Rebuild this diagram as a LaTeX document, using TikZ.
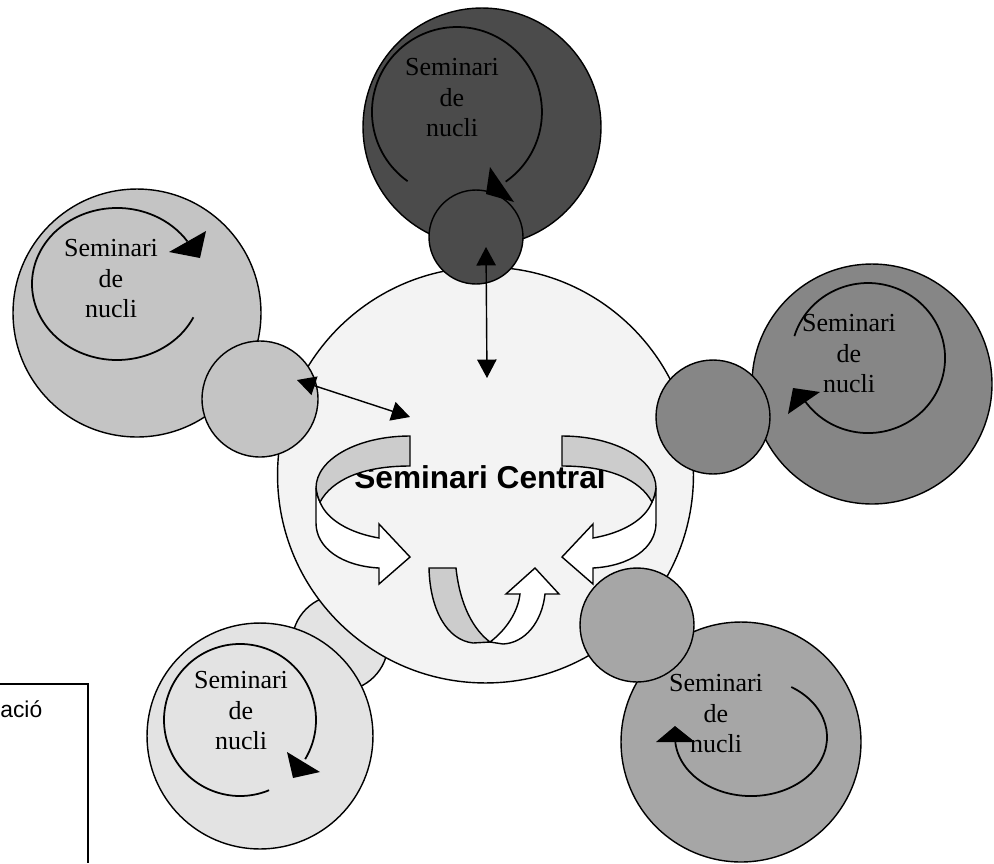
\documentclass[tikz,border=0pt]{standalone}
\usepackage{fontspec}
\setmainfont{Liberation Serif}
\newfontfamily\arialfont{Liberation Sans}
\usetikzlibrary{arrows.meta}

\definecolor{centralgrey}{RGB}{243,243,243}
\definecolor{topgrey}{RGB}{75,75,75}
\definecolor{leftgrey}{RGB}{196,196,196}
\definecolor{rightgrey}{RGB}{134,134,134}
\definecolor{botleftgrey}{RGB}{227,227,227}
\definecolor{botrightgrey}{RGB}{166,166,166}
\definecolor{ribbongrey}{RGB}{204,204,204}

\tikzset{
  ribbon/.pic={
    \filldraw[fill=white, ribbonline] (316,488) -- (316,523) .. controls (316,548) and (342,566) .. (379,568) -- (379,584) -- (410,557) -- (379,524) -- (379,538) .. controls (350,533) and (327,520) .. (320,502) .. controls (318,498) and (317,494) .. (316,488) -- cycle;
    \filldraw[fill=ribbongrey, ribbonline] (410,436) .. controls (358,436) and (316,459) .. (316,488) .. controls (317,494) and (318,498) .. (320,502) .. controls (332,480) and (362,466) .. (410,466) -- cycle;
  }
}

\begin{document}
\begin{tikzpicture}[x=0.02cm, y=-0.02cm,
  disc/.style={circle,draw=black,line width=0.8pt,inner sep=0pt,minimum size=#1},
  nuclitext/.style={align=center,inner sep=0pt,font=\fontsize{14.8}{17.4}\selectfont},
  curl/.style={line width=1pt},
  ribbonline/.style={draw=black,line width=0.8pt},
  arrowstyle/.style={>={Triangle[length=10.5pt,width=11pt]},<->,line width=0.8pt}]

 \useasboundingbox (0,0) rectangle (994,863);

 % small circle hidden behind the centre
 \node[disc=1.92cm, fill=botleftgrey] (linkBotLeft) at (340,643) {};
 \node[disc=8.32cm, fill=centralgrey] (central) at (485.5,475) {};

\foreach \n/\p/\c/\d in {Top/{482,127}/topgrey/4.76cm, Left/{137,313}/leftgrey/4.96cm, Right/{872,384}/rightgrey/4.8cm, BotLeft/{260,736}/botleftgrey/4.52cm, BotRight/{741,742}/botrightgrey/4.8cm}
	\node[disc=\d, fill=\c] (nucli\n) at (\p) {};
\foreach \n/\p/\c/\d in {Top/{476,237}/topgrey/1.88cm, Left/{260,399}/leftgrey/2.32cm, Right/{713,417}/rightgrey/2.28cm, BotRight/{637,625}/botrightgrey/2.28cm}
	\node[disc=\d, fill=\c] (link\n) at (\p) {};

 \node[font=\arialfont\bfseries\fontsize{18}{21}\selectfont, anchor=base, inner sep=0pt] (centraltext) at (480,488) {Seminari Central};

 % turning arrows inside the centre
 \pic[transform shape] {ribbon};
 \begin{scope}[shift={(972,0)}, xscale=-1]
  \pic[transform shape] {ribbon};
 \end{scope}
 \filldraw[fill=ribbongrey, ribbonline] (429,568) -- (456,568) .. controls (460,606) and (474,630) .. (490,642) -- (473,643) .. controls (447,640) and (430,610) .. (429,568) -- cycle;
 \filldraw[fill=white, ribbonline] (490,642) .. controls (506,630) and (518,612) .. (520,594) -- (506,594) -- (535,568) -- (559,594) -- (545,594) .. controls (542,622) and (525,643) .. (503,644) -- cycle;

 % loops inside each seminar
 \draw[curl] (407.6,181.2) arc[start angle=125.5, end angle=415, radius=85];
 \fill (490,167) -- (486,194) -- (514,202) -- cycle;
 \draw[curl] (193.4,317.3) arc[start angle=26, end angle=326, x radius=85, y radius=76];
 \fill (169,252) -- (200,258) -- (206,231) -- cycle;
 \draw[curl] (794.4,336.1) arc[start angle=197, end angle=505, x radius=77, y radius=75];
 \fill (788,414) -- (793,388) -- (820,392) -- cycle;
 \draw[curl] (269.1,790.2) arc[start angle=67.5, end angle=391, radius=76];
 \fill (287,752) -- (293,778) -- (320,772) -- cycle;
 \draw[curl] (791.3,687.0) arc[start angle=-58, end angle=175, x radius=76, y radius=59];
 \fill (675,726) -- (656,742) -- (695,742) -- cycle;

\foreach \n/\p in {Top/{452,97.7}, Left/{111,278.7}, Right/{849,353.7}, BotLeft/{241,710.7}, BotRight/{716,713.7}}
	\node[nuclitext] (label\n) at (\p) {Seminari\\de\\nucli};

 % links to the centre
 \coordinate (topA) at (486,247);
 \coordinate (topB) at (487,378);
 \coordinate (leftA) at (297,380);
 \coordinate (leftB) at (410,417);
 \draw[arrowstyle] (topA) -- (topB);
 \draw[arrowstyle] (leftA) -- (leftB);

 % box cut by the page edge
 \coordinate (boxA) at (0,684);
 \coordinate (boxB) at (88,684);
 \coordinate (boxC) at (88,863);
 \draw[line width=0.8pt] (boxA) -- (boxB) -- (boxC);
 \node[font=\arialfont\fontsize{13}{15}\selectfont, anchor=base west, inner sep=0pt] (boxtext) at (0,717) {ació};
\end{tikzpicture}
\end{document}
